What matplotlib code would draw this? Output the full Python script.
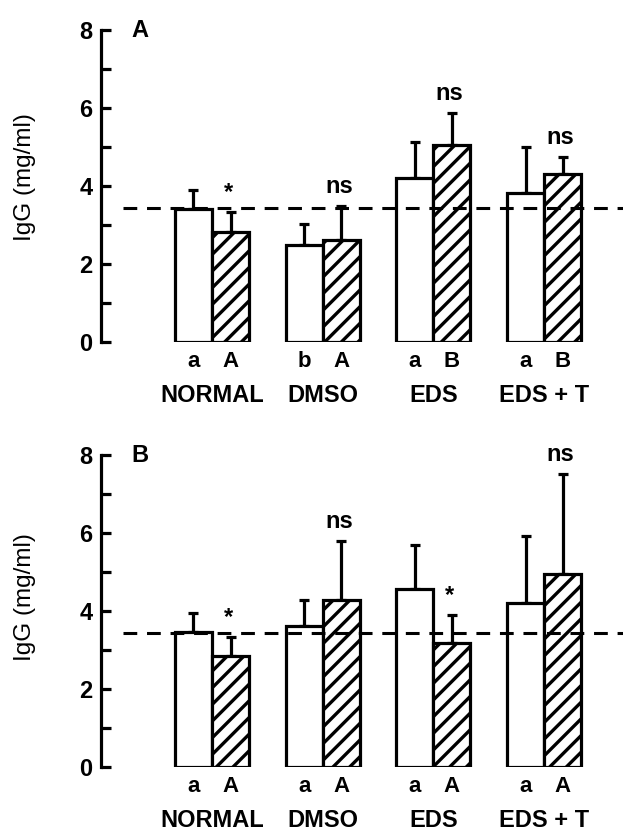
import numpy as np
import matplotlib
matplotlib.use("Agg")
import matplotlib.pyplot as plt

# ============================================================
# DATA
# ============================================================

groups = ["NORMAL", "DMSO", "EDS", "EDS + T"]
reference_level = 3.43

# panel A
a_open = [3.41, 2.49, 4.20, 3.82]
a_open_err = [0.49, 0.53, 0.93, 1.18]
a_hatch = [2.82, 2.62, 5.05, 4.30]
a_hatch_err = [0.51, 0.87, 0.82, 0.44]
a_open_letters = ["a", "b", "a", "a"]
a_hatch_letters = ["A", "A", "B", "B"]
a_marks = ["*", "ns", "ns", "ns"]

# panel B
b_open = [3.46, 3.62, 4.56, 4.20]
b_open_err = [0.49, 0.66, 1.13, 1.72]
b_hatch = [2.85, 4.28, 3.18, 4.95]
b_hatch_err = [0.48, 1.52, 0.72, 2.56]
b_open_letters = ["a", "a", "a", "a"]
b_hatch_letters = ["A", "A", "A", "A"]
b_marks = ["*", "ns", "*", "ns"]

# ============================================================
# STYLE
# ============================================================

plt.rcParams["font.family"] = ["Liberation Sans", "DejaVu Sans"]
plt.rcParams["hatch.linewidth"] = 2.4
plt.rcParams["hatch.color"] = "black"

lw = 2.3
width = 0.335

fig = plt.figure(figsize=(6.23, 8.32), dpi=100)

ax_a = fig.add_axes([0.162, 0.589, 0.838, 0.375])
ax_b = fig.add_axes([0.162, 0.078, 0.838, 0.375])


def draw_panel(ax, tag, opn, opn_err, hat, hat_err, l_open, l_hatch, marks,
               label_y):
    x = np.arange(len(groups))
    xo = x - width / 2
    xh = x + width / 2

    ax.bar(xo, opn, width, color="white", edgecolor="black",
           linewidth=lw, zorder=3)
    ax.bar(xh, hat, width, color="white", edgecolor="black",
           linewidth=lw, hatch="//", zorder=3)

    zeros = np.zeros(len(groups))
    ax.errorbar(xo, opn, yerr=[zeros, opn_err], fmt="none",
                ecolor="black", elinewidth=lw, capsize=3.6,
                capthick=lw, zorder=2)
    ax.errorbar(xh, hat, yerr=[zeros, hat_err], fmt="none",
                ecolor="black", elinewidth=lw, capsize=3.6,
                capthick=lw, zorder=2)

    ax.plot([-0.8, 3.72], [reference_level, reference_level],
            color="black", linewidth=2.2, dashes=(4.5, 3.2), zorder=5)

    for i in range(len(groups)):
        ax.text(xo[i], -0.5, l_open[i], ha="center", va="center",
                fontsize=16, fontweight="bold", clip_on=False)
        ax.text(xh[i], -0.5, l_hatch[i], ha="center", va="center",
                fontsize=16, fontweight="bold", clip_on=False)
        ax.text(x[i], -1.38, groups[i], ha="center", va="center",
                fontsize=17, fontweight="bold", clip_on=False)
        top = hat[i] + hat_err[i]
        ax.text(xh[i] - 0.02, top + 0.33, marks[i], ha="center",
                va="baseline", fontsize=17, fontweight="bold")

    ax.text(-0.65, 7.98, tag, ha="center", va="center",
            fontsize=17, fontweight="bold")

    ax.set_xlim(-1.003, 3.713)
    ax.set_ylim(0, 8)
    ax.set_yticks([0, 2, 4, 6, 8])
    ax.set_yticks([1, 3, 5, 7], minor=True)
    ax.tick_params(axis="y", which="both", direction="in", length=7,
                   width=lw, labelsize=17, pad=6)
    for lab in ax.get_yticklabels():
        lab.set_fontweight("bold")
    ax.set_xticks([])

    for side in ["top", "right", "bottom"]:
        ax.spines[side].set_visible(False)
    ax.spines["left"].set_linewidth(lw)

    ax.set_ylabel("IgG (mg/ml)", fontsize=17.5)
    ax.yaxis.set_label_coords(-0.125, label_y)


draw_panel(ax_a, "A", a_open, a_open_err, a_hatch, a_hatch_err,
           a_open_letters, a_hatch_letters, a_marks, 0.53)
draw_panel(ax_b, "B", b_open, b_open_err, b_hatch, b_hatch_err,
           b_open_letters, b_hatch_letters, b_marks, 0.545)

fig.savefig("out.png", dpi=100)
